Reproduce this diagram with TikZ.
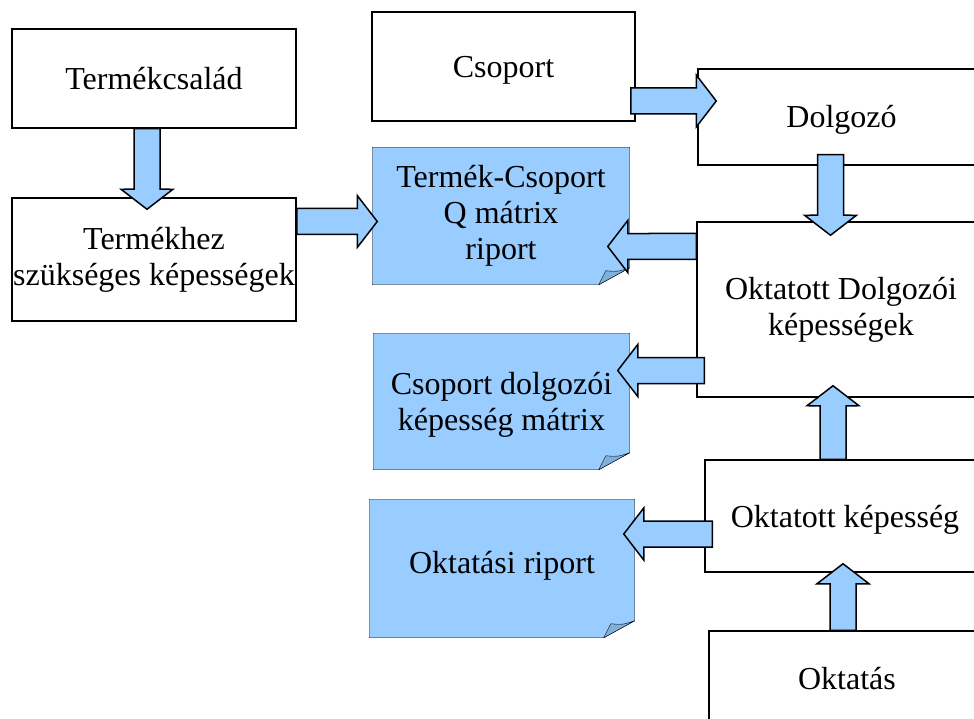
\documentclass[tikz,border=0pt]{standalone}
\usepackage{fontspec}
\setmainfont{Liberation Serif}
\usetikzlibrary{calc,backgrounds}
\definecolor{lightblue}{HTML}{99CCFF}
\definecolor{foldblue}{HTML}{7FAFDD}

% riport shape with a folded corner
\newcommand{\dogear}[1]{%
  \draw[fill=lightblue] (#1.north west) -- (#1.north east) -- ([yshift=17pt]#1.south east)
    -- ([xshift=-31pt]#1.south east) -- (#1.south west) -- cycle;
  \draw[fill=foldblue] ([xshift=-31pt]#1.south east) -- ([xshift=-24pt,yshift=14pt]#1.south east)
    .. controls ([xshift=-12pt,yshift=13pt]#1.south east) .. ([yshift=17pt]#1.south east) -- cycle;
}

\begin{document}
\begin{tikzpicture}[
        x=1pt, y=-1pt,
        line width=1.5pt,
        every node/.style={font=\fontsize{32}{36}\selectfont, align=center, inner sep=0pt},
        box/.style={draw, fill=white},
        oneline/.style={text height=26pt, text depth=4pt},
        riport/.style={},
        flow/.style={
            fill=lightblue, draw=black, line join=miter,
            to path={
                ($(\tikztostart)!13pt!90:(\tikztotarget)$)
                -- ($(\tikztotarget)!23.854pt!-33.02:(\tikztostart)$)
                -- ($(\tikztotarget)!32.80pt!-52.43:(\tikztostart)$)
                -- (\tikztotarget)
                -- ($(\tikztotarget)!32.80pt!52.43:(\tikztostart)$)
                -- ($(\tikztotarget)!23.854pt!33.02:(\tikztostart)$)
                -- ($(\tikztostart)!13pt!-90:(\tikztotarget)$) -- cycle
            }
        }
    ]
    \useasboundingbox (0,0) rectangle (974,719);
    \clip (0,0) rectangle (974,719);

    % left column
    \node[box, oneline, minimum width=284pt, minimum height=99pt] (csalad) at (154,78.5) {Termékcsalád};
    \node[box, minimum width=284pt, minimum height=123pt] (szukseges) at (154,259.5)
        {Termékhez\\szükséges képességek};

    % middle column
    \node[box, oneline, minimum width=263pt, minimum height=109pt] (csoport) at (503.5,66.5) {Csoport};
    \node[riport, minimum width=256pt, minimum height=136pt] (tcq) at (501,216)
        {Termék-Csoport\\Q mátrix\\riport};
    \node[riport, minimum width=255pt, minimum height=135pt, text depth=0pt] (csdk) at (501.5,401.5)
        {Csoport dolgozói\\képesség mátrix};
    \node[riport, minimum width=264pt, minimum height=137pt, text height=14pt, text depth=4pt] (oktr)
        at (502,568.5) {Oktatási riport};

    % right column
    \node[box, oneline, minimum width=287pt, minimum height=96pt] (dolgozo) at (841.5,117) {Dolgozó};
    \node[box, minimum width=288pt, minimum height=175pt] (odk) at (841,309.5)
        {Oktatott Dolgozói\\képességek};
    \node[box, oneline, minimum width=280pt, minimum height=112pt] (okk) at (845,516) {Oktatott képesség};
    \node[box, oneline, minimum width=276pt, minimum height=94pt] (oktatas) at (847,678) {Oktatás};

    \begin{scope}[on background layer]
        \dogear{tcq}
        \dogear{csdk}
        \dogear{oktr}
    \end{scope}

    % block arrows
    \draw[flow] ([xshift=-7pt]csalad.south) to ([xshift=-7pt,yshift=-12pt]szukseges.north);
    \draw[flow] ([yshift=38pt]szukseges.east) to ([xshift=5pt,yshift=-5.5pt]tcq.west);
    \draw[flow] ([xshift=-5pt,yshift=-34.5pt]csoport.east) to ([xshift=19pt,yshift=16pt]dolgozo.west);
    \draw[flow] ([xshift=-11pt,yshift=11pt]dolgozo.south) to ([xshift=-10.5pt,yshift=-14pt]odk.north);
    \draw[flow] ([yshift=63pt]odk.west) to ([xshift=-22pt,yshift=-30.5pt]tcq.east);
    \draw[flow] ([xshift=8pt,yshift=-61pt]odk.west) to ([xshift=-12pt,yshift=31pt]csdk.east);
    \draw[flow] ([xshift=-12pt]okk.north) to ([xshift=-8pt,yshift=12pt]odk.south);
    \draw[flow] ([xshift=8pt,yshift=-18pt]okk.west) to ([xshift=-11pt,yshift=34.5pt]oktr.east);
    \draw[flow] ([xshift=-4pt]oktatas.north) to ([xshift=-2pt,yshift=9pt]okk.south);
\end{tikzpicture}
\end{document}
